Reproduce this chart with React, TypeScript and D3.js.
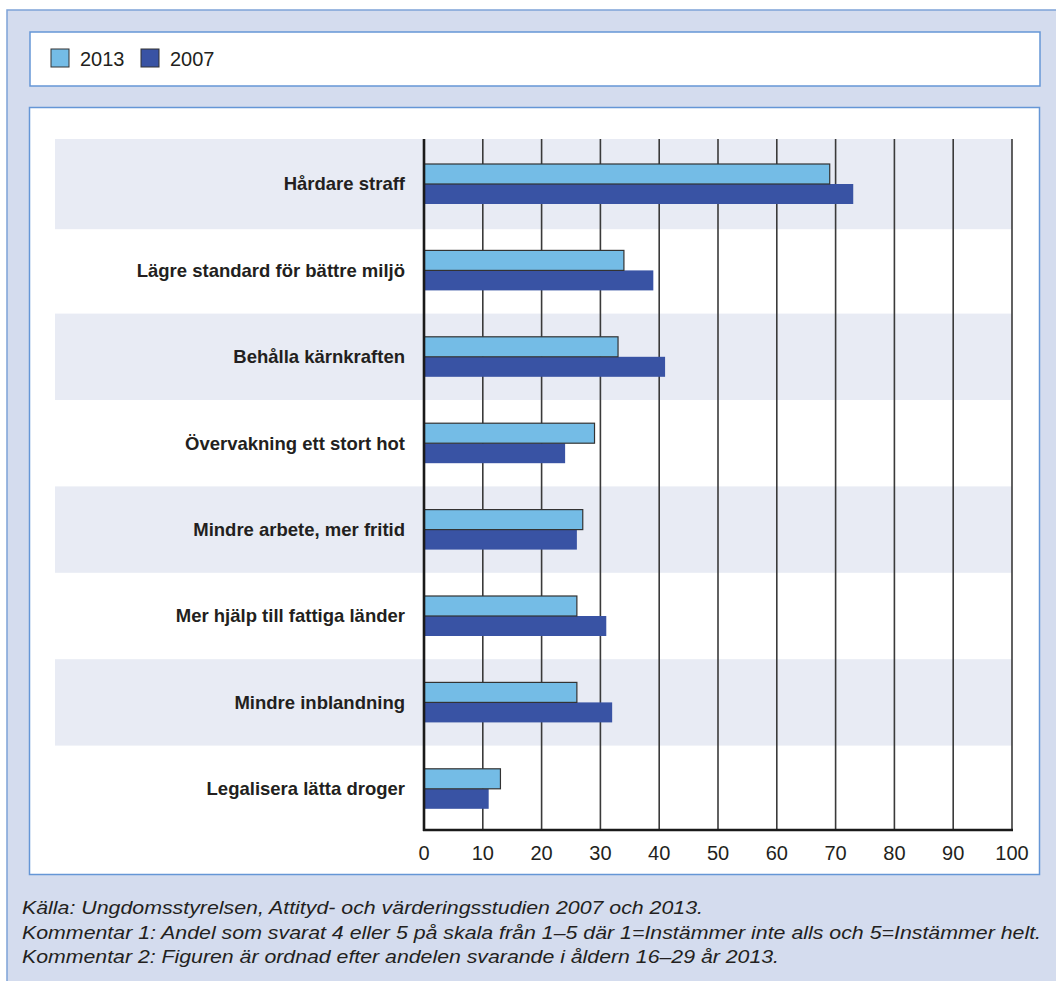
import React from "react";
import * as d3 from "d3";

const categories = [
  "Hårdare straff",
  "Lägre standard för bättre miljö",
  "Behålla kärnkraften",
  "Övervakning ett stort hot",
  "Mindre arbete, mer fritid",
  "Mer hjälp till fattiga länder",
  "Mindre inblandning",
  "Legalisera lätta droger",
];
const values2013 = [69, 34, 33, 29, 27, 26, 26, 13];
const values2007 = [73, 39, 41, 24, 26, 31, 32, 11];
const seriesNames = ["2013", "2007"];
const xTicks = [0, 10, 20, 30, 40, 50, 60, 70, 80, 90, 100];
const footnotes = [
  "Källa: Ungdomsstyrelsen, Attityd- och värderingsstudien 2007 och 2013.",
  "Kommentar 1: Andel som svarat 4 eller 5 på skala från 1–5 där 1=Instämmer inte alls och 5=Instämmer helt.",
  "Kommentar 2: Figuren är ordnad efter andelen svarande i åldern 16–29 år 2013.",
];

const W = 1056;
const H = 981;
const LIGHT = "#74bce6";
const DARK = "#3953a4";
const BAND = "#e8ebf4";
const BG = "#d4dcee";
const BORDER = "#6596d6";
const TEXT = "#231f20";
const FONT = "'Liberation Sans', Arial, Helvetica, sans-serif";

export default function App() {
  const x = d3.scaleLinear().domain([0, 100]).range([424, 1012]);
  const y = d3.scaleBand<string>().domain(categories).range([140.8, 832]).paddingInner(0).paddingOuter(0);
  const plotTop = 139;
  const axisY = 830;
  const barH = 20;
  const footWidths = [681, 1019, 757];

  return (
    <svg
      width={W}
      height={H}
      style={{ position: "absolute", left: 0, top: 0, display: "block" }}
      fontFamily={FONT}
    >
      <rect x={0} y={0} width={W} height={H} fill="#ffffff" />
      <rect x={7} y={10} width={W + 10} height={H + 10} fill={BG} stroke="#7da2d8" strokeWidth={1.5} />

      {/* legend box */}
      <rect x={30} y={32} width={1010} height={54} fill="#ffffff" stroke={BORDER} strokeWidth={1.5} />
      {seriesNames.map((s, i) => {
        const sx = i === 0 ? 51 : 141;
        return (
          <g key={s}>
            <rect x={sx} y={49} width={18} height={18} fill={i === 0 ? LIGHT : DARK} stroke="#333" strokeWidth={1} />
            <text x={sx + 29} y={66} fontSize={20} fill={TEXT}>
              {s}
            </text>
          </g>
        );
      })}

      {/* chart box */}
      <rect x={29.5} y={107.5} width={1010} height={767} fill="#ffffff" stroke={BORDER} strokeWidth={1.5} />

      {/* bands */}
      {categories.map((c, i) =>
        i % 2 === 0 ? (
          <rect
            key={c}
            x={55}
            y={i === 0 ? plotTop : (y(c) as number)}
            width={1012 - 55}
            height={i === 0 ? (y(c) as number) + y.bandwidth() - plotTop + 2 : y.bandwidth()}
            fill={BAND}
          />
        ) : null
      )}

      {/* gridlines */}
      {xTicks.slice(1).map((t) => (
        <line key={t} x1={x(t)} x2={x(t)} y1={plotTop} y2={axisY} stroke="#3a3a3a" strokeWidth={1.6} />
      ))}

      {/* bars */}
      {categories.map((c, i) => {
        const cy = (y(c) as number) + y.bandwidth() / 2;
        return (
          <g key={c}>
            <rect x={x(0)} y={cy} width={x(values2007[i]) - x(0)} height={barH} fill={DARK} />
            <rect
              x={x(0)}
              y={cy - barH}
              width={x(values2013[i]) - x(0)}
              height={barH}
              fill={LIGHT}
              stroke="#333"
              strokeWidth={1.2}
            />
            <text
              x={405}
              y={cy}
              dy="0.35em"
              textAnchor="end"
              fontSize={18.5}
              fontWeight="bold"
              fill={TEXT}
            >
              {c}
            </text>
          </g>
        );
      })}

      {/* axes */}
      <line x1={x(0)} x2={x(0)} y1={plotTop} y2={axisY + 1} stroke="#1a1a1a" strokeWidth={2.6} />
      <line x1={x(0) - 1} x2={x(100) + 1} y1={axisY} y2={axisY} stroke="#1a1a1a" strokeWidth={2.6} />
      {xTicks.map((t) => (
        <text key={t} x={x(t)} y={860} textAnchor="middle" fontSize={20} fill={TEXT}>
          {t}
        </text>
      ))}

      {/* footnotes */}
      {footnotes.map((f, i) => (
        <text
          key={i}
          x={22}
          y={914 + i * 24.5}
          fontSize={19}
          fontStyle="italic"
          fill={TEXT}
          textLength={footWidths[i]}
          lengthAdjust="spacingAndGlyphs"
        >
          {f}
        </text>
      ))}
    </svg>
  );
}
